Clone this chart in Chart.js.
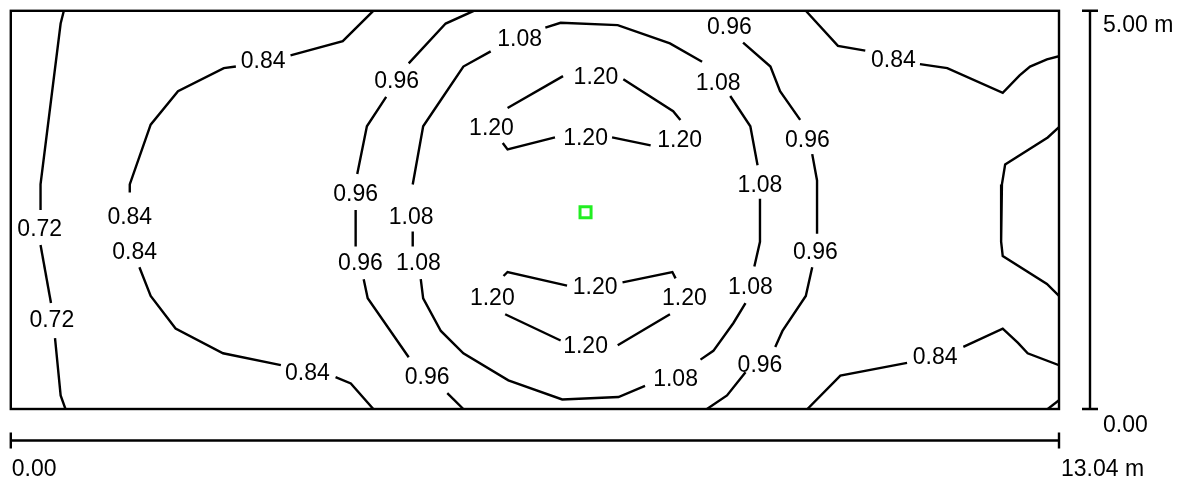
<!DOCTYPE html>
<html>
<head>
<meta charset="utf-8">
<script src="https://cdn.jsdelivr.net/npm/chart.js@4/dist/chart.umd.min.js"></script>
<style>
  html, body { margin: 0; background: #fff; }
  #wrap { width: 1182px; height: 479px; }
</style>
</head>
<body>
<div id="wrap"><canvas id="iso" width="1182" height="479"></canvas></div>
<script>
  // room size in metres
  var roomWidth = 13.04;
  var roomDepth = 5.00;
  var widthLabels = ["0.00", "13.04 m"];
  var depthLabels = ["5.00 m", "0.00"];

  // isolines (x, y in metres), split where the value label sits
  var iso072 = [
    [[0.66, 5.00], [0.62, 4.84], [0.37, 2.82], [0.37, 2.50]],
    [[0.37, 2.06], [0.50, 1.33]],
    [[0.55, 0.89], [0.62, 0.17], [0.68, 0.00]],
    [[12.90, 0.00], [13.04, 0.11]]
  ];
  var iso084 = [
    [[4.51, 5.00], [4.13, 4.62], [3.48, 4.44]],
    [[2.80, 4.30], [2.65, 4.28], [2.08, 3.99], [1.74, 3.57], [1.48, 2.82], [1.48, 2.72]],
    [[1.60, 1.78], [1.74, 1.42], [2.05, 1.01], [2.64, 0.70], [3.36, 0.55]],
    [[4.04, 0.40], [4.23, 0.32], [4.51, 0.00]],
    [[9.89, 5.00], [10.29, 4.56], [10.63, 4.50]],
    [[11.31, 4.33], [11.65, 4.28], [12.34, 3.97], [12.55, 4.19], [12.68, 4.30], [12.89, 4.39], [13.04, 4.43]],
    [[13.04, 3.54], [12.90, 3.41], [12.37, 3.07], [12.33, 2.82], [12.32, 2.10], [12.34, 1.92], [12.89, 1.57], [13.04, 1.42]],
    [[13.04, 0.55], [12.65, 0.70], [12.53, 0.83], [12.34, 1.01], [11.85, 0.78]],
    [[11.15, 0.58], [10.32, 0.42], [9.91, 0.00]]
  ];
  var iso096 = [
    [[5.76, 5.00], [5.41, 4.84], [4.95, 4.34]],
    [[4.67, 3.92], [4.43, 3.55], [4.31, 2.95]],
    [[4.29, 2.50], [4.29, 2.04]],
    [[4.39, 1.63], [4.44, 1.39], [4.95, 0.65]],
    [[5.43, 0.20], [5.63, 0.00]],
    [[9.11, 4.60], [9.45, 4.30], [9.57, 3.99], [9.82, 3.63]],
    [[9.97, 3.20], [10.03, 2.87], [10.03, 2.20]],
    [[9.97, 1.78], [9.89, 1.42], [9.60, 0.98], [9.51, 0.78]],
    [[9.14, 0.46], [8.91, 0.17], [8.66, 0.00]]
  ];
  var iso108 = [
    [[6.65, 4.79], [6.84, 4.85], [7.55, 4.82], [8.20, 4.59], [8.60, 4.36]],
    [[8.95, 3.93], [9.20, 3.55], [9.29, 3.06]],
    [[9.32, 2.64], [9.32, 2.10], [9.25, 1.79]],
    [[9.14, 1.33], [8.99, 1.08], [8.74, 0.73], [8.58, 0.62]],
    [[7.89, 0.29], [7.56, 0.15], [6.86, 0.12], [6.19, 0.36], [5.63, 0.70], [5.35, 0.98], [5.13, 1.39], [5.10, 1.63]],
    [[5.00, 2.04], [5.00, 2.23]],
    [[5.00, 2.82], [5.13, 3.55], [5.35, 3.88], [5.63, 4.30], [5.97, 4.49]]
  ];
  var iso120 = [
    [[6.87, 4.18], [6.18, 3.78]],
    [[7.62, 4.14], [8.24, 3.74], [8.33, 3.63]],
    [[7.96, 3.31], [7.48, 3.41]],
    [[6.77, 3.41], [6.18, 3.26], [6.12, 3.34]],
    [[6.13, 1.67], [6.18, 1.72], [6.92, 1.55]],
    [[7.61, 1.59], [8.23, 1.72], [8.27, 1.64]],
    [[8.20, 1.19], [7.55, 0.80]],
    [[6.84, 0.86], [6.15, 1.19]]
  ];

  // where each value label is written
  var lab072 = [[0.36, 2.27], [0.51, 1.13]];
  var lab084 = [[3.14, 4.38], [1.48, 2.42], [1.54, 1.98], [3.69, 0.46], [10.98, 4.39], [11.50, 0.66]];
  var lab096 = [[4.80, 4.13], [4.29, 2.71], [4.35, 1.84], [5.18, 0.42], [8.94, 4.81], [9.91, 3.39], [10.01, 1.98], [9.32, 0.56]];
  var lab108 = [[6.33, 4.66], [8.80, 4.10], [9.32, 2.83], [9.20, 1.55], [8.27, 0.39], [5.07, 1.84], [4.98, 2.42]];
  var lab120 = [[7.28, 4.18], [5.98, 3.54], [8.32, 3.39], [7.15, 3.42], [7.27, 1.55], [8.38, 1.41], [5.99, 1.41], [7.15, 0.80]];

  var luminaires = [[7.15, 2.47]];

  var levels = [
    { text: "0.72", lines: iso072, labels: lab072 },
    { text: "0.84", lines: iso084, labels: lab084 },
    { text: "0.96", lines: iso096, labels: lab096 },
    { text: "1.08", lines: iso108, labels: lab108 },
    { text: "1.20", lines: iso120, labels: lab120 }
  ];

  var FONT = "23px 'Liberation Sans', Arial, sans-serif";

  function toPoints(arr) {
    return arr.map(function (p) { return { x: p[0], y: p[1] }; });
  }

  var datasets = [];
  levels.forEach(function (lv) {
    lv.lines.forEach(function (seg) {
      datasets.push({
        data: toPoints(seg),
        borderColor: "#000",
        borderWidth: 2.4,
        pointRadius: 0,
        fill: false,
        tension: 0
      });
    });
  });
  datasets.push({
    type: "scatter",
    data: toPoints(luminaires),
    pointStyle: "rect",
    pointRadius: 7.8,
    borderColor: "#22ee22",
    backgroundColor: "rgba(0,0,0,0)",
    borderWidth: 3
  });

  var frame = {
    id: "frame",
    afterDatasetsDraw: function (chart) {
      var ctx = chart.ctx, xs = chart.scales.x, ys = chart.scales.y;
      var l = xs.getPixelForValue(0), r = xs.getPixelForValue(roomWidth);
      var t = ys.getPixelForValue(roomDepth), b = ys.getPixelForValue(0);
      ctx.save();
      ctx.strokeStyle = "#000";
      ctx.lineWidth = 2.4;
      ctx.strokeRect(l, t, r - l, b - t);

      // width bar under the room
      var by = b + 31.5;
      ctx.beginPath();
      ctx.moveTo(l, by); ctx.lineTo(r, by);
      ctx.moveTo(l, by - 8); ctx.lineTo(l, by + 8);
      ctx.moveTo(r, by - 8); ctx.lineTo(r, by + 8);
      // depth bar on the right
      var bx = r + 31;
      ctx.moveTo(bx, t); ctx.lineTo(bx, b);
      ctx.moveTo(bx - 8, t); ctx.lineTo(bx + 8, t);
      ctx.moveTo(bx - 8, b); ctx.lineTo(bx + 8, b);
      ctx.stroke();

      ctx.fillStyle = "#000";
      ctx.font = FONT;
      ctx.textAlign = "left";
      ctx.textBaseline = "alphabetic";
      ctx.fillText(widthLabels[0], l + 1, b + 67);
      ctx.fillText(widthLabels[1], r + 2, b + 67);
      ctx.fillText(depthLabels[0], bx + 13, t + 21);
      ctx.fillText(depthLabels[1], bx + 13, b + 23);

      // isoline values
      ctx.textAlign = "center";
      levels.forEach(function (lv) {
        lv.labels.forEach(function (p) {
          ctx.fillText(lv.text, xs.getPixelForValue(p[0]), ys.getPixelForValue(p[1]) + 8);
        });
      });
      ctx.restore();
    }
  };

  new Chart(document.getElementById("iso"), {
    type: "line",
    data: { datasets: datasets },
    options: {
      responsive: false,
      animation: false,
      layout: { padding: { left: 10, top: 7, right: 123, bottom: 70 } },
      scales: {
        x: { type: "linear", min: 0, max: roomWidth, display: false },
        y: { type: "linear", min: 0, max: roomDepth, display: false }
      },
      plugins: { legend: { display: false }, tooltip: { enabled: false } }
    },
    plugins: [frame]
  });
</script>
</body>
</html>
